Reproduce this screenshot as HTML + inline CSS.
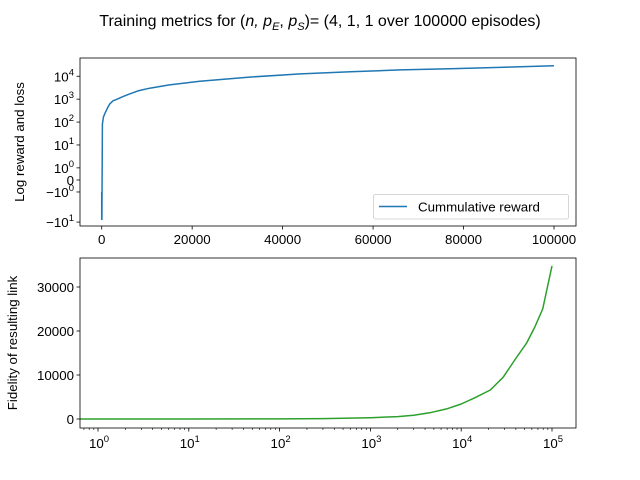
<!DOCTYPE html>
<html><head><meta charset="utf-8"><style>
body{margin:0;background:#fff}
svg{display:block;font-family:"Liberation Sans","DejaVu Sans",sans-serif}
</style></head><body>
<svg id="fig" width="640" height="480" viewBox="0 0 640 480" xmlns="http://www.w3.org/2000/svg">
<text x="320" y="26" font-size="16" text-anchor="middle">Training metrics for (<tspan font-style="italic">n, p</tspan><tspan font-style="italic" font-size="11" dy="4">E</tspan><tspan dy="-4">, </tspan><tspan font-style="italic">p</tspan><tspan font-style="italic" font-size="11" dy="4">S</tspan><tspan dy="-4">)= (4, 1, 1 over 100000 episodes)</tspan></text>
<g id="topAxes"></g>
<g id="botAxes"></g>
</svg>
<script>
// ---- data: top chart ----
const rewardEpisodes = [0, 0, 50, 150, 250, 400, 800, 1300, 1800, 2500, 3400, 4500, 6200, 8000, 10600, 15000, 21700, 33000, 44000, 55000, 66000, 77000, 89000, 100000];
const rewardValues   = [-1, -8, -8, 80, 110, 170, 260, 420, 620, 850, 1000, 1250, 1700, 2300, 3000, 4200, 6000, 9300, 12700, 15700, 19000, 21500, 25000, 29000];
const topXTicks = [0, 20000, 40000, 60000, 80000, 100000];
const topYTicks = [10000, 1000, 100, 10, 1, 0, -1, -10];
const topYLabels = ["10^4","10^3","10^2","10^1","10^0","0","-10^0","-10^1"];
// ---- data: bottom chart ----
const fidEpisodes = [0.63, 1, 10, 100, 300, 1000, 2000, 3000, 4500, 6900, 10000, 14000, 20900, 29000, 41000, 52600, 65000, 79000, 100000];
const fidValues   = [0, 0, 0, 20, 80, 300, 550, 850, 1400, 2300, 3400, 4800, 6600, 9500, 14100, 17300, 21000, 25000, 34800];
const botXTicks = [1, 10, 100, 1000, 10000, 100000];
const botXLabels = ["0","1","2","3","4","5"];
const botYTicks = [0, 10000, 20000, 30000];

const NS = "http://www.w3.org/2000/svg";
function mk(tag, attrs, parent, txt){const e=document.createElementNS(NS,tag);for(const k in attrs)e.setAttribute(k,attrs[k]);if(txt!==undefined)e.textContent=txt;parent.appendChild(e);return e;}

// top axes
const T = {l:80, r:576, t:58, b:226};
const tx = v => 101.7 + v * (452.3/100000);
function symt(v){const a=Math.abs(v);const s=Math.sign(v);return a<=1? v*0.53 : s*(0.53+Math.log10(a));}
const ty = v => { const t=symt(v); return t>=0 ? 180 - t*22.9 : 180 - t*(t<-0.53 ? 27.5 : 22.6); };
const topG = document.getElementById('topAxes');
let pts = rewardEpisodes.map((e,i)=>tx(e).toFixed(1)+","+ty(rewardValues[i]).toFixed(1)).join(" ");
let ln = mk('polyline',{points:pts,fill:'none',stroke:'#1f77b4','stroke-width':1.5,'stroke-linejoin':'round'},topG);


mk('rect',{x:T.l,y:T.t,width:T.r-T.l,height:T.b-T.t,fill:'none',stroke:'#000','stroke-width':0.8},topG);
topXTicks.forEach(v=>{const x=tx(v);mk('line',{x1:x,x2:x,y1:T.b,y2:T.b+3.5,stroke:'#000','stroke-width':0.8},topG);
 const t=mk('text',{x:x,y:T.b+18,'font-size':13.3,'text-anchor':'middle'},topG,String(v));
 
 });
topYTicks.forEach((v,i)=>{const y=ty(v);mk('line',{x1:T.l-3.5,x2:T.l,y1:y,y2:y,stroke:'#000','stroke-width':0.8},topG);
 const lab=topYLabels[i];const t=mk('text',{x:T.l-6,y:y+5,'font-size':13.3,'text-anchor':'end'},topG);
 
 
 if(lab.includes('^')){const parts=lab.split('^');const s1=document.createElementNS(NS,'tspan');s1.textContent=parts[0].replace('-','\u2212');t.appendChild(s1);
  const s2=document.createElementNS(NS,'tspan');s2.setAttribute('dy','-6');s2.setAttribute('font-size','9.5');s2.textContent=parts[1];t.appendChild(s2);
 } else t.textContent=lab;});
let yl=mk('text',{transform:'translate(24,142) rotate(-90)','font-size':13.3,'text-anchor':'middle'},topG,'Log reward and loss');


let lg=mk('g',{},topG);


mk('rect',{x:373.5,y:194.5,width:195,height:24.5,rx:2,fill:'#fff',stroke:'#ccc','stroke-width':0.8},lg);
mk('line',{x1:379,x2:407,y1:206.5,y2:206.5,stroke:'#1f77b4','stroke-width':1.5},lg);
let le=mk('text',{x:418,y:211.5,'font-size':13.3},lg,'Cummulative reward');



// bottom axes
const B = {l:80, r:576, t:258, b:428};
const bx = v => 98 + Math.log10(v)*90.8;
const by = v => 419 - v*0.0044;
const botG = document.getElementById('botAxes');
pts = fidEpisodes.map((e,i)=>bx(e).toFixed(1)+","+by(fidValues[i]).toFixed(1)).join(" ");
ln = mk('polyline',{points:pts,fill:'none',stroke:'#2ca02c','stroke-width':1.5,'stroke-linejoin':'round'},botG);


mk('rect',{x:B.l,y:B.t,width:B.r-B.l,height:B.b-B.t,fill:'none',stroke:'#000','stroke-width':0.8},botG);
for(let d=-1;d<=5;d++){for(let m=2;m<=9;m++){const x=bx(m*Math.pow(10,d));if(x>B.l&&x<B.r)mk('line',{x1:x,x2:x,y1:B.b,y2:B.b+2,stroke:'#000','stroke-width':0.6},botG);}}
botXTicks.forEach((v,i)=>{const x=bx(v);mk('line',{x1:x,x2:x,y1:B.b,y2:B.b+3.5,stroke:'#000','stroke-width':0.8},botG);
 const t=mk('text',{x:x+1,y:B.b+20,'font-size':13.3,'text-anchor':'middle'},botG,'10');
 
 
 const s=document.createElementNS(NS,'tspan');s.setAttribute('dy','-6');s.setAttribute('font-size','9.5');s.textContent=botXLabels[i];t.appendChild(s);});
botYTicks.forEach(v=>{const y=by(v);mk('line',{x1:B.l-3.5,x2:B.l,y1:y,y2:y,stroke:'#000','stroke-width':0.8},botG);
 const t=mk('text',{x:B.l-6,y:y+5,'font-size':13.3,'text-anchor':'end'},botG,String(v));
 
 });
yl=mk('text',{transform:'translate(17,343) rotate(-90)','font-size':13.3,'text-anchor':'middle'},botG,'Fidelity of resulting link');


</script>
</body></html>
